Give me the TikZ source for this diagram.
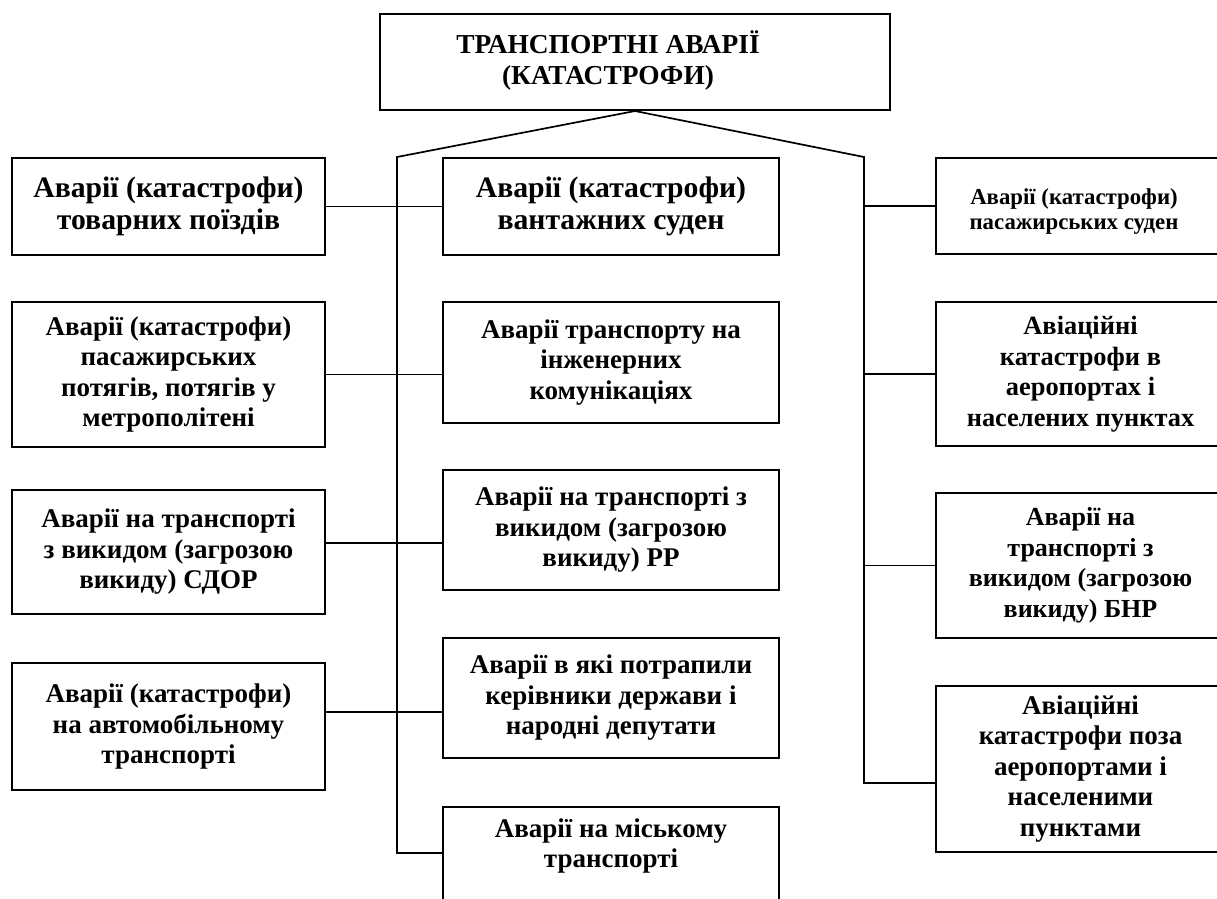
\documentclass[tikz,border=0pt]{standalone}
\usepackage{fontspec}
\setmainfont{Liberation Serif}
\begin{document}
\begin{tikzpicture}[x=1pt,y=-1pt,
  box/.style={draw=black,line width=2pt,rectangle,inner sep=0pt,align=center,
     font=\fontsize{27}{30.5}\selectfont\bfseries},
  bigbox/.style={box,font=\fontsize{29.7}{32}\selectfont\bfseries},
  txt/.style={inner sep=0pt,align=center,font=\fontsize{27.4}{31}\selectfont\bfseries},
  smalltxt/.style={inner sep=0pt,align=center,font=\fontsize{22.8}{25}\selectfont\bfseries},
  conn/.style={draw=black,line width=1.7pt}]
\useasboundingbox (0,0) rectangle (1217,898);
\clip (0,0) rectangle (1217,898);
% top
\node[box,minimum width=510pt,minimum height=96pt] (top) at (635,62) {};
\node[txt] (toptext) at (608,61) {ТРАНСПОРТНІ АВАРІЇ\\(КАТАСТРОФИ)};
% left column
\node[bigbox,minimum width=313pt,minimum height=97pt] (L1) at (168.5,206.5) {Аварії (катастрофи)\\товарних поїздів};
\node[box,minimum width=313pt,minimum height=145pt] (L2) at (168.5,374.5) {Аварії (катастрофи)\\пасажирських\\потягів, потягів у\\метрополітені};
\node[box,minimum width=313pt,minimum height=124pt] (L3) at (168.5,552) {Аварії на транспорті\\з викидом (загрозою\\викиду) СДОР};
\node[box,minimum width=313pt,minimum height=127pt] (L4) at (168.5,726.5) {Аварії (катастрофи)\\на автомобільному\\транспорті};
% center column
\node[bigbox,minimum width=336pt,minimum height=97pt] (C1) at (611,206.5) {Аварії (катастрофи)\\вантажних суден};
\node[box,minimum width=336pt,minimum height=121pt] (C2) at (611,362.5) {Аварії транспорту на\\інженерних\\комунікаціях};
\node[box,minimum width=336pt,minimum height=120pt] (C3) at (611,530) {Аварії на транспорті з\\викидом (загрозою\\викиду) РР};
\node[box,minimum width=336pt,minimum height=120pt] (C4) at (611,698) {Аварії в які потрапили\\керівники держави і\\народні депутати};
\node[box,minimum width=336pt,minimum height=108pt] (C5) at (611,861) {};
\node[txt,font=\fontsize{27}{30.5}\selectfont\bfseries] (C5text) at (611,846) {Аварії на міському\\транспорті};
% right column
\node[box,minimum width=289pt,minimum height=96pt] (R1) at (1080.5,206) {};
\node[smalltxt] (R1text) at (1074,212) {Аварії (катастрофи)\\пасажирських суден};
\node[box,minimum width=289pt,minimum height=144pt,font=\fontsize{26.4}{30.5}\selectfont\bfseries] (R2) at (1080.5,374) {Авіаційні\\катастрофи в\\аеропортах і\\населених пунктах};
\node[box,minimum width=289pt,minimum height=145pt,font=\fontsize{26}{30.5}\selectfont\bfseries] (R3) at (1080.5,565.5) {Аварії на\\транспорті з\\викидом (загрозою\\викиду) БНР};
\node[box,minimum width=289pt,minimum height=166pt] (R4) at (1080.5,769) {Авіаційні\\катастрофи поза\\аеропортами і\\населеними\\пунктами};
% spine coordinates
\coordinate (ls) at (397,157);
\coordinate (rs) at (864,157);
\coordinate (k3) at (0,543);
\coordinate (k4) at (0,712);
\coordinate (k5) at (0,853);
\coordinate (kr4) at (0,783);
% connectors
\draw[conn] (top.south) -- (ls) -- (ls |- k5) -- (C5.west |- k5);
\draw[conn] (top.south) -- (rs) -- (rs |- kr4) -- (R4.west |- kr4);
\draw[conn] (L1.east) -- (C1.west);
\draw[conn] (L2.east) -- (C2.west |- L2.east);
\draw[conn] (L3.east |- k3) -- (C3.west |- k3);
\draw[conn] (L4.east |- k4) -- (C4.west |- k4);
\draw[conn] (rs |- R1.west) -- (R1.west);
\draw[conn] (rs |- R2.west) -- (R2.west);
\draw[conn] (rs |- R3.west) -- (R3.west);
\end{tikzpicture}
\end{document}
